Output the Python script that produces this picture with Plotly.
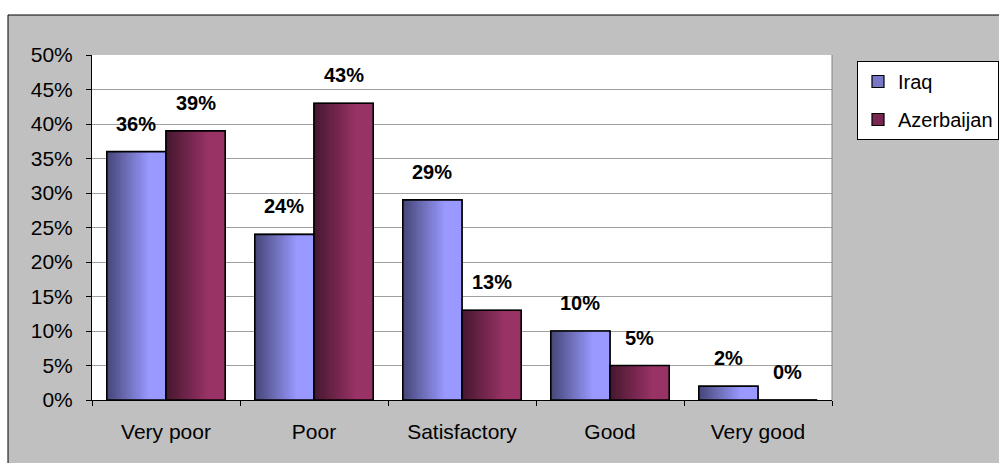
import plotly.graph_objects as go

# ---- data -------------------------------------------------------------
categories = ["Very poor", "Poor", "Satisfactory", "Good", "Very good"]
iraq = [36, 24, 29, 10, 2]
azerbaijan = [39, 43, 13, 5, 0]
series_names = ["Iraq", "Azerbaijan"]
y_tick_values = [0, 5, 10, 15, 20, 25, 30, 35, 40, 45, 50]
y_tick_labels = [f"{v}%" for v in y_tick_values]

# ---- styling ----------------------------------------------------------
FONT = "Arial, Liberation Sans, sans-serif"
W, H = 999, 463
L, R, T, B = 92, 167, 55, 63          # plot area 92..832 x 55..400
PW, PH = W - L - R, H - T - B
CAT_PX = PW / len(categories)

BAR_W = 0.4
series_style = [
    # (values, bar offset, dark edge colour, light colour, legend swatch)
    (iraq, -BAR_W, (72, 72, 122), (153, 153, 255), "rgb(120,120,200)"),
    (azerbaijan, 0.0, (72, 24, 48), (153, 51, 102), "rgb(120,40,80)"),
]
N_SLICES = 32


def blend(c1, c2, t):
    return "rgb({},{},{})".format(*[round(a + (b - a) * t) for a, b in zip(c1, c2)])


def px_x(px):
    return (px - L) / PW


def px_y(py):
    return (H - B - py) / PH


fig = go.Figure()
annotations = []

for name, (vals, off, dark, light, swatch) in zip(series_names, series_style):
    # base bar: carries the legend entry
    fig.add_trace(go.Bar(
        x=categories, y=vals, name=name, legendgroup=name,
        offset=off, width=BAR_W,
        marker=dict(color=swatch, line=dict(color="black", width=1.2)),
        hoverinfo="skip",
    ))
    # horizontal dark-to-light gradient built from overlapping slices
    for i in range(N_SLICES):
        frac = i / N_SLICES
        fig.add_trace(go.Bar(
            x=categories, y=vals, legendgroup=name, showlegend=False,
            offset=off + BAR_W * frac, width=BAR_W * (1 - frac),
            marker=dict(color=blend(dark, light, min(frac / 0.7, 1.0)),
                        line=dict(width=0)),
            hoverinfo="skip",
        ))
    # outline on top
    fig.add_trace(go.Bar(
        x=categories, y=vals, legendgroup=name, showlegend=False,
        offset=off, width=BAR_W,
        marker=dict(color="rgba(0,0,0,0)", line=dict(color="black", width=1.6)),
        hovertemplate="%{x}: %{y}%<extra>" + name + "</extra>",
    ))
    # value labels
    for cat, v in zip(categories, vals):
        annotations.append(dict(
            x=cat, y=v, xref="x", yref="y",
            text=f"{v}%", showarrow=False,
            xshift=(off + BAR_W / 2) * CAT_PX,
            yanchor="bottom", yshift=15,
            font=dict(family=FONT, size=20, color="black", weight="bold"),
        ))

shapes = [
    # chart area: grey panel with black frame
    dict(type="rect", xref="paper", yref="paper", layer="below",
         x0=px_x(8), x1=px_x(W + 10), y0=px_y(H + 10), y1=px_y(15),
         fillcolor="#C0C0C0", line=dict(color="black", width=1)),
    # plot area
    dict(type="rect", xref="paper", yref="paper", layer="below",
         x0=0, x1=1, y0=0, y1=1,
         fillcolor="white", line=dict(width=0)),
    # right edge of plot area
    dict(type="line", xref="paper", yref="paper", layer="above",
         x0=1, x1=1, y0=0, y1=1, line=dict(color="#808080", width=1)),
]

fig.update_layout(
    width=W, height=H,
    margin=dict(l=L, r=R, t=T, b=B, pad=0, autoexpand=False),
    paper_bgcolor="white",
    plot_bgcolor="rgba(0,0,0,0)",
    barmode="overlay",
    font=dict(family=FONT, size=21, color="black"),
    shapes=shapes,
    annotations=annotations,
    showlegend=True,
    legend=dict(
        x=px_x(857), y=px_y(61), xanchor="left", yanchor="top",
        bgcolor="white", bordercolor="black", borderwidth=1,
        font=dict(family=FONT, size=20, color="black"),
        tracegroupgap=9, itemwidth=30,
    ),
    xaxis=dict(
        type="category", categoryorder="array", categoryarray=categories,
        range=[-0.5, len(categories) - 0.5],
        showgrid=False, showline=True, linecolor="black", linewidth=1,
        ticks="outside", tickson="boundaries", ticklen=5, tickcolor="black",
        ticklabelstandoff=13,
        tickfont=dict(family=FONT, size=21, color="black"),
        fixedrange=True,
    ),
    yaxis=dict(
        range=[0, 50], tickmode="array",
        tickvals=y_tick_values, ticktext=y_tick_labels,
        showgrid=True, gridcolor="#A0A0A0", gridwidth=1,
        showline=True, linecolor="black", linewidth=1,
        ticks="outside", ticklen=5, tickcolor="black",
        ticklabelstandoff=9, zeroline=False,
        tickfont=dict(family=FONT, size=21, color="black"),
        fixedrange=True,
    ),
)

fig.write_html("out.html")
